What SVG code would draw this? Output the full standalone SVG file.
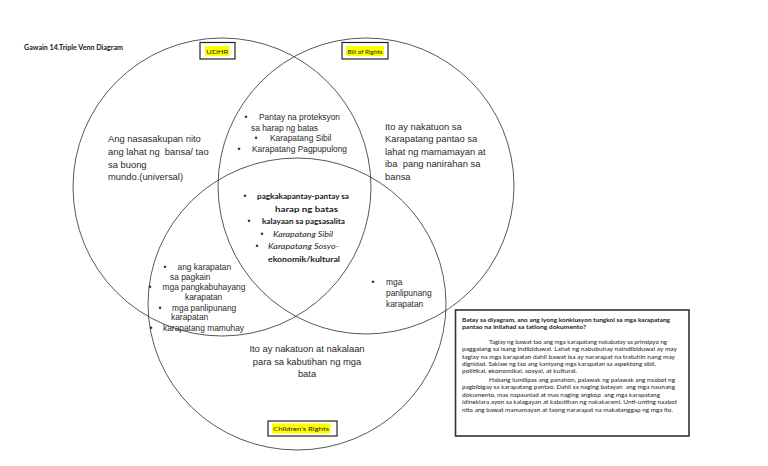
<svg xmlns="http://www.w3.org/2000/svg" width="768" height="466" viewBox="0 0 768 466">
<style>
.circ{fill:none;stroke:#3a3a3a;stroke-width:0.85}
.lbl{fill:#fff;stroke:#222;stroke-width:1.2}
.hl{fill:#ffff00}
.cal{font-family:Lato,"Liberation Sans",sans-serif;fill:#1a1a1a}
.ar{font-family:"Liberation Sans",Arial,sans-serif;fill:#2a2a2a}
.big{font-size:9.4px}
.sm{font-size:8.4px}
.mid{font-size:8px;font-weight:bold}
.it{font-size:8px;font-style:italic}
.box{font-size:6.2px}
</style>
<rect width="768" height="466" fill="#fff"/>
<text class="cal" x="24" y="49.5" font-size="7" font-weight="bold" textLength="99" lengthAdjust="spacingAndGlyphs">Gawain 14.Triple Venn Diagram</text>

<g id="udhr">
<circle class="circ" cx="222" cy="187" r="149"/>
<rect class="lbl" x="200" y="42.5" width="35" height="16.5"/>
<rect class="hl" x="205" y="46" width="24.5" height="10"/>
<text class="cal" x="217.3" y="54" font-size="6.5" text-anchor="middle" textLength="22" lengthAdjust="spacingAndGlyphs">UDHR</text>
<text class="ar big" x="108" xml:space="preserve"><tspan x="108" y="142">Ang nasasakupan nito</tspan><tspan x="108" y="155">ang lahat ng  bansa/ tao</tspan><tspan x="108" y="167.5">sa buong</tspan><tspan x="108" y="180">mundo.(universal)</tspan></text>
</g>

<g id="bill-of-rights">
<circle class="circ" cx="366" cy="186" r="148"/>
<rect class="lbl" x="342" y="42.5" width="46" height="16.5"/>
<rect class="hl" x="346" y="46" width="38" height="10"/>
<text class="cal" x="365" y="54" font-size="6.5" text-anchor="middle" textLength="35" lengthAdjust="spacingAndGlyphs">Bill of Rights</text>
<text class="ar big" xml:space="preserve"><tspan x="385" y="129.5">Ito ay nakatuon sa</tspan><tspan x="385" y="142">Karapatang pantao sa</tspan><tspan x="385" y="154.5">lahat ng mamamayan at</tspan><tspan x="385" y="167">iba  pang nanirahan sa</tspan><tspan x="385" y="179.5">bansa</tspan></text>
</g>

<g id="childrens-rights">
<ellipse class="circ" cx="297" cy="304" rx="149" ry="146"/>
<rect class="lbl" x="268" y="421" width="69" height="15"/>
<rect class="hl" x="272" y="423.5" width="58.5" height="10"/>
<text class="cal" x="301" y="431.3" font-size="6.5" text-anchor="middle" textLength="56" lengthAdjust="spacingAndGlyphs">Children's Rights</text>
<text class="ar big" text-anchor="middle"><tspan x="307" y="352">Ito ay nakatuon at nakalaan</tspan><tspan x="307" y="364.5">para sa kabutihan ng mga</tspan><tspan x="307" y="377">bata</tspan></text>
</g>

<g id="udhr-bill-overlap">
<text class="ar sm" x="244.5" y="120">•</text>
<text class="ar sm" x="259" y="120">Pantay na proteksyon</text>
<text class="ar sm" x="251" y="130.5">sa harap ng batas</text>
<text class="ar sm" x="254.5" y="141">•</text>
<text class="ar sm" x="270" y="141">Karapatang Sibil</text>
<text class="ar sm" x="237.5" y="151.5">•</text>
<text class="ar sm" x="252" y="151.5">Karapatang Pagpupulong</text>
</g>

<g id="all-overlap">
<text class="ar sm" x="243.5" y="199">•</text>
<text class="cal mid" x="257" y="199" textLength="92" lengthAdjust="spacingAndGlyphs">pagkakapantay-pantay sa</text>
<text class="cal mid" x="275" y="211.5" textLength="63" lengthAdjust="spacingAndGlyphs">harap ng batas</text>
<text class="ar sm" x="247.5" y="224">•</text>
<text class="cal mid" x="262" y="224" textLength="83" lengthAdjust="spacingAndGlyphs">kalayaan sa pagsasalita</text>
<text class="ar sm" x="260.5" y="236.5">•</text>
<text class="cal it" x="273" y="236.5" textLength="60" lengthAdjust="spacingAndGlyphs">Karapatang Sibil</text>
<text class="ar sm" x="255.5" y="249">•</text>
<text class="cal it" x="268" y="249" textLength="71" lengthAdjust="spacingAndGlyphs">Karapatang Sosyo-</text>
<text class="cal mid" x="268" y="261.5" textLength="72" lengthAdjust="spacingAndGlyphs">ekonomik/kultural</text>
</g>

<g id="udhr-children-overlap">
<text class="ar sm" x="163.5" y="270">•</text>
<text class="ar sm" x="177.5" y="270">ang karapatan</text>
<text class="ar sm" x="170" y="279.5">sa pagkain</text>
<text class="ar sm" x="148.5" y="290">•</text>
<text class="ar sm" x="162.5" y="290">mga pangkabuhayang</text>
<text class="ar sm" x="185" y="299.5">karapatan</text>
<text class="ar sm" x="158.5" y="310.5">•</text>
<text class="ar sm" x="172" y="310.5">mga panlipunang</text>
<text class="ar sm" x="171" y="320">karapatan</text>
<text class="ar sm" x="149.5" y="330.5">•</text>
<text class="ar sm" x="163" y="330.5">karapatang mamuhay</text>
</g>

<g id="bill-children-overlap">
<text class="ar sm" x="371.5" y="285">•</text>
<text class="ar sm" x="386" y="285">mga</text>
<text class="ar sm" x="386" y="296">panlipunang</text>
<text class="ar sm" x="386" y="306.5">karapatan</text>
</g>

<g id="conclusion-box">
<rect x="455.5" y="310" width="233.5" height="126" fill="#fff" stroke="#333" stroke-width="1.6"/>
<text class="cal box" font-weight="bold" x="462" y="321.5" textLength="208" lengthAdjust="spacingAndGlyphs">Batay sa diyagram, ano ang iyong konklusyon tungkol sa mga karapatang</text>
<text class="cal box" font-weight="bold" x="462" y="329" textLength="124" lengthAdjust="spacingAndGlyphs">pantao na inilahad sa tatlong dokumento?</text>
<text class="cal box" x="489" y="344" textLength="178" lengthAdjust="spacingAndGlyphs">Taglay ng bawat tao ang mga karapatang nakabatay sa prinsipyo ng</text>
<text class="cal box" x="462" y="351.3" textLength="215" lengthAdjust="spacingAndGlyphs">paggalang sa isang indibiduwal. Lahat ng nabubuhay naindibiduwal ay may</text>
<text class="cal box" x="462" y="358.6" textLength="213" lengthAdjust="spacingAndGlyphs">taglay na mga karapatan dahil bawat isa ay nararapat na tratuhin nang may</text>
<text class="cal box" x="462" y="365.9" textLength="194" lengthAdjust="spacingAndGlyphs">dignidad. Saklaw ng tao ang kaniyang mga karapatan sa aspektong sibil,</text>
<text class="cal box" x="462" y="373.2" textLength="115" lengthAdjust="spacingAndGlyphs">politikal, ekonomikal, sosyal, at kultural.</text>
<text class="cal box" x="489" y="381.7" textLength="186" lengthAdjust="spacingAndGlyphs">Habang lumilipas ang panahon, palawak ng palawak ang naabot ng</text>
<text class="cal box" x="462" y="389.3" textLength="213" lengthAdjust="spacingAndGlyphs" xml:space="preserve">pagbibigay sa karapatang pantao. Dahil sa naging batayan  ang mga naunang</text>
<text class="cal box" x="462" y="396.8" textLength="198" lengthAdjust="spacingAndGlyphs" xml:space="preserve">dokumento, mas napaunlad at mas naging angkop  ang mga karapatang</text>
<text class="cal box" x="462" y="404.3" textLength="215" lengthAdjust="spacingAndGlyphs">idineklara ayon sa kalagayan at kabutihan ng nakakarami. Unti-unting naabot</text>
<text class="cal box" x="462" y="411.8" textLength="211" lengthAdjust="spacingAndGlyphs">nito ang bawat mamamayan at taong nararapat na makatanggap ng mga ito.</text>
</g>

<g id="connectors"/>
</svg>
